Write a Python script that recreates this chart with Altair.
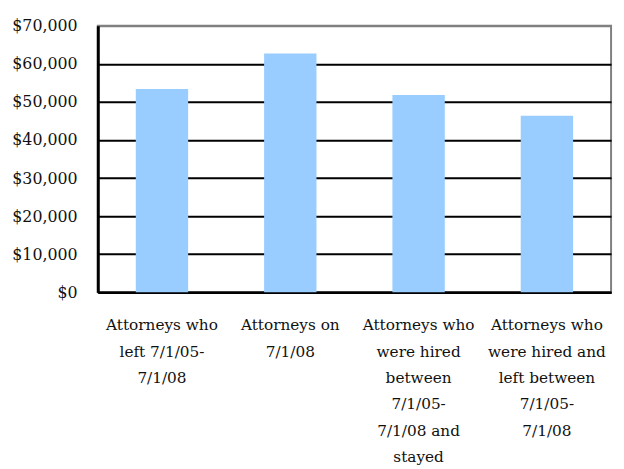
import altair as alt
import pandas as pd

categories = [
    "Attorneys who|left 7/1/05-|7/1/08",
    "Attorneys on|7/1/08",
    "Attorneys who|were hired|between|7/1/05-|7/1/08 and|stayed",
    "Attorneys who|were hired and|left between|7/1/05-|7/1/08",
]
salaries = [53400, 62700, 51800, 46400]
y_ticks = [0, 10000, 20000, 30000, 40000, 50000, 60000, 70000]

df = pd.DataFrame({"group": categories, "salary": salaries})

FONT = "DejaVu Serif"

chart = alt.Chart(df).mark_bar(color="#99CCFF").encode(
    x=alt.X(
        "group:N",
        sort=None,
        title=None,
        scale=alt.Scale(paddingInner=0.592, paddingOuter=0.296),
        axis=alt.Axis(
            labelAngle=0,
            labelExpr="split(datum.label, '|')",
            labelAlign="center",
            labelBaseline="top",
            labelLineHeight=26.7,
            labelPadding=26,
            ticks=False,
            tickSize=0,
            domainColor="black",
            domainWidth=2.5,
            labelFont=FONT,
            labelFontSize=15.5,
            labelColor="#111111",
            grid=False,
        ),
    ),
    y=alt.Y(
        "salary:Q",
        title=None,
        scale=alt.Scale(domain=[0, 70000], nice=False),
        axis=alt.Axis(
            values=y_ticks,
            format="$,.0f",
            ticks=False,
            tickSize=0,
            labelPadding=21,
            labelFont=FONT,
            labelFontSize=16,
            labelColor="#111111",
            domainColor="black",
            domainWidth=3,
            grid=True,
            gridColor=alt.condition(alt.datum.value == 70000, alt.value("#808080"), alt.value("black")),
            gridWidth=2,
            gridOpacity=1,
        ),
    ),
).properties(
    width=520,
    height=270,
    autosize=alt.AutoSizeParams(type="none"),
    padding={"left": 91, "top": 15, "right": 5, "bottom": 176},
).configure_view(
    stroke="#808080",
    strokeWidth=2,
)

chart.save("out.html", embed_options={"renderer": "svg", "actions": False})
